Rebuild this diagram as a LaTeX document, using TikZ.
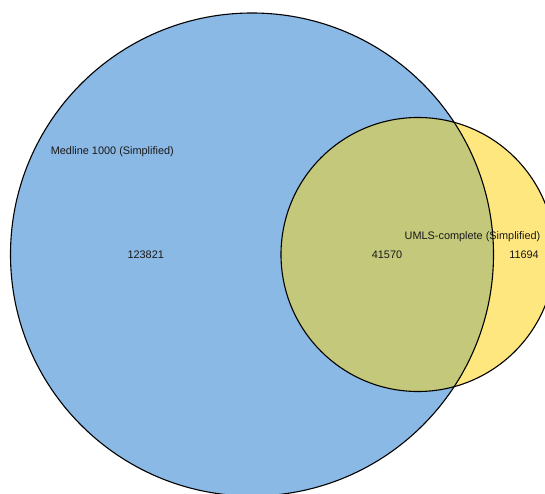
\documentclass[tikz,border=0pt]{standalone}
\usepackage{fontspec}
\setmainfont{Liberation Sans}
\definecolor{setblue}{RGB}{139,185,229}
\definecolor{setyellow}{RGB}{255,231,128}
\definecolor{setboth}{RGB}{196,200,122}
\begin{document}
\begin{tikzpicture}[x=1pt,y=-1pt,
  setcircle/.style={circle, inner sep=0pt, outer sep=0pt, draw=black, line width=1.1pt},
  lbl/.style={font=\fontsize{10.9}{12}\selectfont, inner sep=0pt, text=black!90}]
\useasboundingbox (0,0) rectangle (545,494);
% regions
\fill[setblue] (252,254.5) circle (241.5);
\fill[setyellow] (418,254.5) circle (137);
\begin{scope}
  \clip (252,254.5) circle (241.5);
  \fill[setboth] (418,254.5) circle (137);
\end{scope}
% outlines
\node[setcircle, minimum size=483pt] (medline) at (252,254.5) {};
\node[setcircle, minimum size=274pt] (umls) at (418,254.5) {};
% labels
\node[lbl] (medname) at (112.3,151.7) {Medline 1000 (Simplified)};
\node[lbl] (umlsname) at (472.5,236.7) {UMLS-complete (Simplified)};
\node[lbl] (only1) at (145.7,255) {123821};
\node[lbl] (both) at (387,255) {41570};
\node[lbl] (only2) at (524,255) {11694};
\end{tikzpicture}
\end{document}
